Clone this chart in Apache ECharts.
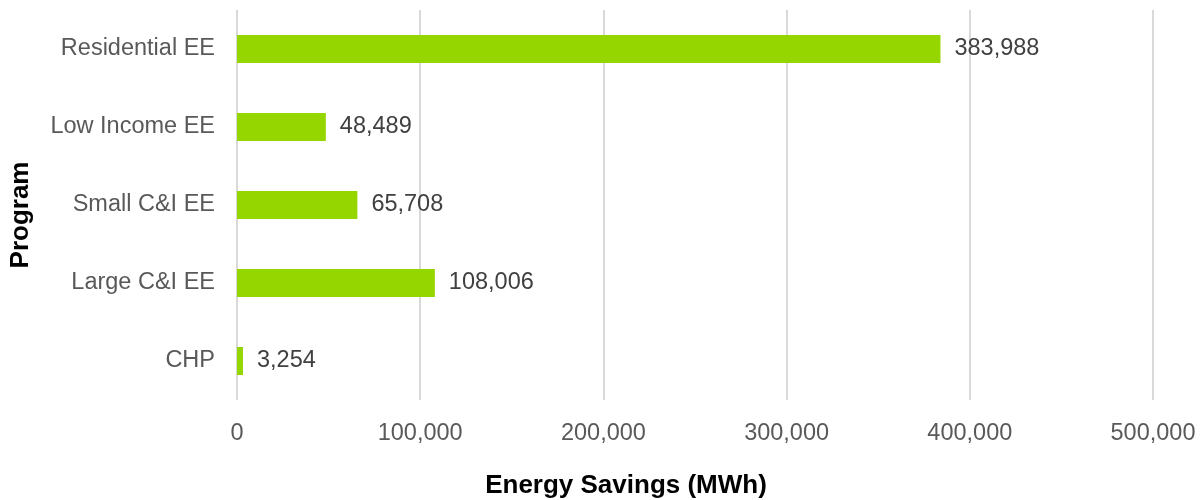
<!DOCTYPE html>
<html>
<head>
<meta charset="utf-8">
<script src="https://cdn.jsdelivr.net/npm/echarts@6/dist/echarts.min.js"></script>
<style>html,body{margin:0;padding:0;background:#fff}#c{width:1202px;height:500px}</style>
</head>
<body>
<div id="c"></div>
<script>
const categories = ["CHP", "Large C&I EE", "Small C&I EE", "Low Income EE", "Residential EE"];
const savings = [3254, 108006, 65708, 48489, 383988];
const xTicks = [0, 100000, 200000, 300000, 400000, 500000];

const chart = echarts.init(document.getElementById('c'));
chart.setOption({
  animation: false,
  textStyle: { fontFamily: 'Liberation Sans, Arial, sans-serif' },
  grid: { left: 237, right: 49, top: 10, bottom: 100, containLabel: false, outerBoundsMode: 'none' },
  xAxis: {
    type: 'value',
    min: xTicks[0], max: xTicks[xTicks.length - 1], interval: 100000,
    name: 'Energy Savings (MWh)', nameLocation: 'middle', nameGap: 73,
    nameTextStyle: { fontSize: 26, fontWeight: 'bold', color: '#000', padding: [0, 138, 0, 0] },
    axisLine: { show: false }, axisTick: { show: false },
    axisLabel: { fontSize: 23.5, color: '#595959', margin: 22,
      formatter: v => v.toLocaleString('en-US') },
    splitLine: { show: true, lineStyle: { color: '#d9d9d9', width: 2 } }
  },
  yAxis: {
    type: 'category', data: categories,
    name: 'Program', nameLocation: 'middle', nameGap: 203, nameRotate: 90,
    nameTextStyle: { fontSize: 26, fontWeight: 'bold', color: '#000', padding: [0, 20, 0, 0] },
    axisLine: { show: false }, axisTick: { show: false },
    axisLabel: { fontSize: 23.5, color: '#595959', margin: 22 }
  },
  series: [{
    type: 'bar', data: savings, barWidth: 28,
    itemStyle: { color: '#95D600' },
    label: { show: true, position: 'right', distance: 14, fontSize: 23.5, color: '#404040',
      formatter: p => p.value.toLocaleString('en-US') }
  }]
});
</script>
</body>
</html>
